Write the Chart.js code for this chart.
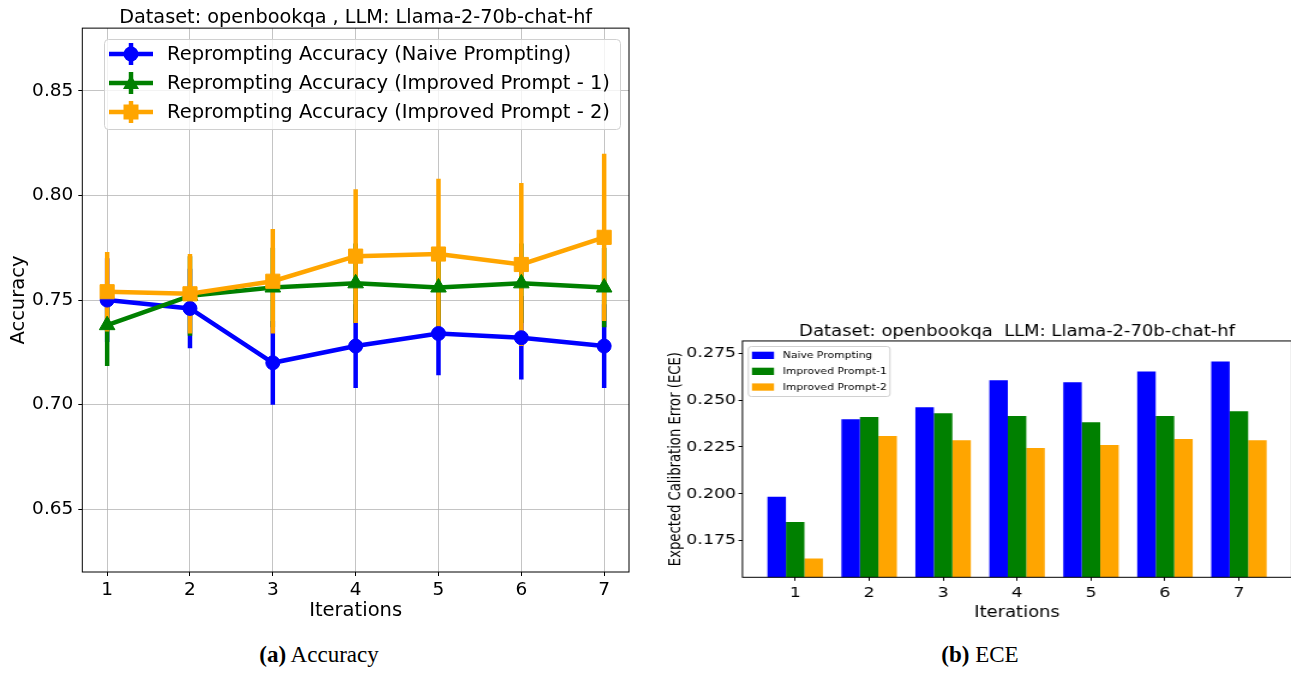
<!DOCTYPE html>
<html>
<head>
<meta charset="utf-8">
<script src="https://cdn.jsdelivr.net/npm/chart.js@4.4.1/dist/chart.umd.min.js"></script>
<style>
  html, body { margin: 0; padding: 0; background: #fff; overflow: hidden; width: 1291px; height: 673px; }
  #left { position: absolute; left: 0; top: 0; }
  #rightWrap { position: absolute; left: 655px; top: 318px; transform: scaleX(1.2); transform-origin: 0 0; }
  .cap { position: absolute; top: 642px; font-family: 'Liberation Serif', 'Times New Roman', serif; font-size: 23px; color: #000; white-space: nowrap; transform: translateX(-50%); }
</style>
</head>
<body>
<canvas id="left" width="640" height="630"></canvas>
<div id="rightWrap"><canvas id="right" width="532" height="312"></canvas></div>
<div class="cap" style="left:319px"><b>(a)</b> Accuracy</div>
<div class="cap" style="left:980px"><b>(b)</b> ECE</div>
<script>
// ---------------- data ----------------
const iterations = [1, 2, 3, 4, 5, 6, 7];

const naiveAcc = [0.750, 0.746, 0.720, 0.728, 0.734, 0.732, 0.728];
const naiveErr = [0.020, 0.019, 0.020, 0.020, 0.020, 0.020, 0.020];
const imp1Acc  = [0.738, 0.752, 0.756, 0.758, 0.756, 0.758, 0.756];
const imp1Err  = [0.0195, 0.019, 0.019, 0.019, 0.019, 0.019, 0.019];
const imp2Acc  = [0.754, 0.753, 0.759, 0.771, 0.772, 0.767, 0.780];
const imp2Err  = [0.019, 0.019, 0.025, 0.032, 0.036, 0.039, 0.040];
const accTicks = [0.65, 0.70, 0.75, 0.80, 0.85];

const eceNaive = [0.1985, 0.2398, 0.2462, 0.2605, 0.2595, 0.2652, 0.2705];
const eceImp1  = [0.1850, 0.2410, 0.2430, 0.2415, 0.2382, 0.2415, 0.2440];
const eceImp2  = [0.1655, 0.2308, 0.2286, 0.2244, 0.2260, 0.2292, 0.2286];
const eceTicks = [0.175, 0.200, 0.225, 0.250, 0.275];

const accLabels = ['Reprompting Accuracy (Naive Prompting)',
                   'Reprompting Accuracy (Improved Prompt - 1)',
                   'Reprompting Accuracy (Improved Prompt - 2)'];
const eceLabels = ['Naive Prompting', 'Improved Prompt-1', 'Improved Prompt-2'];

const BLUE = '#0000ff', GREEN = '#008000', ORANGE = '#ffa500';

Chart.defaults.font.family = "'DejaVu Sans', sans-serif";
Chart.defaults.color = '#000';
Chart.defaults.animation = false;
Chart.defaults.plugins.legend.display = false;
Chart.defaults.plugins.tooltip.enabled = false;

const pts = (vals) => vals.map((v, i) => ({ x: iterations[i], y: v }));

// ---------------- plugins ----------------
const errorBars = {
  id: 'errorBars',
  beforeDatasetsDraw(chart) {
    const { ctx, scales: { x, y }, chartArea: a } = chart;
    ctx.save();
    ctx.beginPath(); ctx.rect(a.left, a.top, a.width, a.height); ctx.clip();
    chart.data.datasets.forEach(ds => {
      if (!ds.errors) return;
      ctx.strokeStyle = ds.borderColor;
      ctx.lineWidth = 4.5;
      ctx.lineCap = 'butt';
      ds.data.forEach((p, i) => {
        const px = x.getPixelForValue(p.x);
        ctx.beginPath();
        ctx.moveTo(px, y.getPixelForValue(p.y - ds.errors[i]));
        ctx.lineTo(px, y.getPixelForValue(p.y + ds.errors[i]));
        ctx.stroke();
      });
    });
    ctx.restore();
  }
};

const frame = {
  id: 'frame',
  afterDatasetsDraw(chart) {
    const { ctx, chartArea: a } = chart;
    ctx.save();
    ctx.strokeStyle = '#000';
    ctx.lineWidth = 1;
    ctx.strokeRect(a.left, a.top, a.right - a.left, a.bottom - a.top);
    ctx.restore();
  }
};

function roundRect(ctx, x, y, w, h, r) {
  ctx.beginPath();
  ctx.moveTo(x + r, y);
  ctx.lineTo(x + w - r, y); ctx.arcTo(x + w, y, x + w, y + r, r);
  ctx.lineTo(x + w, y + h - r); ctx.arcTo(x + w, y + h, x + w - r, y + h, r);
  ctx.lineTo(x + r, y + h); ctx.arcTo(x, y + h, x, y + h - r, r);
  ctx.lineTo(x, y + r); ctx.arcTo(x, y, x + r, y, r);
  ctx.closePath();
}

function marker(ctx, style, x, y, color) {
  ctx.fillStyle = color;
  ctx.beginPath();
  if (style === 'circle') {
    ctx.arc(x, y, 7.5, 0, Math.PI * 2);
  } else if (style === 'triangle') {
    ctx.moveTo(x, y - 8); ctx.lineTo(x + 8, y + 6); ctx.lineTo(x - 8, y + 6); ctx.closePath();
  } else {
    ctx.rect(x - 7.5, y - 7.5, 15, 15);
  }
  ctx.fill();
}

const lineLegend = {
  id: 'lineLegend',
  afterDraw(chart) {
    const ctx = chart.ctx;
    ctx.save();
    roundRect(ctx, 104.5, 39.5, 516, 90, 4);
    ctx.fillStyle = 'rgba(255,255,255,0.8)';
    ctx.fill();
    ctx.strokeStyle = '#d0d0d0';
    ctx.lineWidth = 1;
    ctx.stroke();
    const rows = [54, 83, 112];
    chart.data.datasets.forEach((ds, i) => {
      const yy = rows[i];
      ctx.strokeStyle = ds.borderColor;
      ctx.lineWidth = 4.5;
      ctx.beginPath(); ctx.moveTo(109, yy); ctx.lineTo(153, yy); ctx.stroke();
      ctx.beginPath(); ctx.moveTo(131, yy - 11); ctx.lineTo(131, yy + 11); ctx.stroke();
      marker(ctx, ds.pointStyle, 131, yy, ds.borderColor);
      ctx.fillStyle = '#000';
      ctx.font = "19.5px 'DejaVu Sans', sans-serif";
      ctx.textBaseline = 'middle';
      ctx.textAlign = 'left';
      ctx.fillText(ds.label, 167, yy + 1);
    });
    ctx.restore();
  }
};

const barLegend = {
  id: 'barLegend',
  afterDraw(chart) {
    const ctx = chart.ctx;
    ctx.save();
    roundRect(ctx, 77.8, 28.5, 118, 50, 2.5);
    ctx.fillStyle = 'rgba(255,255,255,0.8)';
    ctx.fill();
    ctx.strokeStyle = '#d0d0d0';
    ctx.lineWidth = 1;
    ctx.stroke();
    const rows = [37.3, 53.3, 69];
    chart.data.datasets.forEach((ds, i) => {
      const yy = rows[i];
      ctx.fillStyle = ds.backgroundColor;
      ctx.fillRect(80.8, yy - 3.6, 18.4, 7.3);
      ctx.fillStyle = '#000';
      ctx.font = "9px 'DejaVu Sans', sans-serif";
      ctx.textBaseline = 'middle';
      ctx.textAlign = 'left';
      ctx.fillText(ds.label, 106.4, yy + 0.5);
    });
    ctx.restore();
  }
};

// ---------------- left chart: accuracy ----------------
const gridCol = 'rgba(176,176,176,0.75)';
new Chart(document.getElementById('left'), {
  type: 'line',
  data: {
    datasets: [
      { label: accLabels[0], data: pts(naiveAcc), errors: naiveErr, borderColor: BLUE, backgroundColor: BLUE,
        pointStyle: 'circle', pointRadius: 7, order: 3 },
      { label: accLabels[1], data: pts(imp1Acc), errors: imp1Err, borderColor: GREEN, backgroundColor: GREEN,
        pointStyle: 'triangle', pointRadius: 9, order: 2 },
      { label: accLabels[2], data: pts(imp2Acc), errors: imp2Err, borderColor: ORANGE, backgroundColor: ORANGE,
        pointStyle: 'rect', pointRadius: 10, order: 1 }
    ].map(d => Object.assign(d, { borderWidth: 4.5, fill: false, tension: 0,
        pointBackgroundColor: d.borderColor, pointBorderColor: d.borderColor, pointBorderWidth: 1 }))
  },
  options: {
    responsive: false,
    layout: { padding: { left: 0, right: 10, top: 0, bottom: 0 } },
    plugins: {
      title: { display: true, fullSize: false, text: 'Dataset: openbookqa , LLM: Llama-2-70b-chat-hf',
               font: { size: 19.3, weight: 'normal', lineHeight: 1.1 }, padding: { top: 6.9, bottom: 0 }, color: '#000' }
    },
    scales: {
      x: {
        type: 'linear', min: 0.7, max: 7.3,
        afterBuildTicks: s => { s.ticks = iterations.map(v => ({ value: v })); },
        afterFit: s => { s.height = 58; },
        ticks: { font: { size: 18.5 }, padding: 3.5, callback: v => String(v), maxRotation: 0 },
        grid: { color: gridCol, lineWidth: 1, tickColor: '#000', tickLength: 4 },
        border: { display: false },
        title: { display: true, text: 'Iterations', font: { size: 19.5 }, padding: { top: 0, bottom: 7.3 } }
      },
      y: {
        type: 'linear', min: 0.62, max: 0.88,
        afterBuildTicks: s => { s.ticks = accTicks.map(v => ({ value: v })); },
        afterFit: s => { s.width = 82.3; },
        ticks: { font: { size: 18.5 }, padding: 5, callback: v => Number(v).toFixed(2) },
        grid: { color: gridCol, lineWidth: 1, tickColor: '#000', tickLength: 4 },
        border: { display: false },
        title: { display: true, text: 'Accuracy', font: { size: 19.5 }, padding: { top: 7.3, bottom: 0 } }
      }
    }
  },
  plugins: [errorBars, frame, lineLegend]
});

// ---------------- right chart: ECE ----------------
new Chart(document.getElementById('right'), {
  type: 'bar',
  data: {
    datasets: [
      { label: eceLabels[0], data: pts(eceNaive), backgroundColor: BLUE },
      { label: eceLabels[1], data: pts(eceImp1), backgroundColor: GREEN },
      { label: eceLabels[2], data: pts(eceImp2), backgroundColor: ORANGE }
    ].map(d => Object.assign(d, { categoryPercentage: 0.75, barPercentage: 1.0, borderWidth: 0 }))
  },
  options: {
    responsive: false,
    layout: { padding: { left: 0, right: 1.5, top: 0, bottom: 0 } },
    plugins: {
      title: { display: true, fullSize: false, text: 'Dataset: openbookqa  LLM: Llama-2-70b-chat-hf',
               font: { size: 15, weight: 'normal', lineHeight: 1.15 }, padding: { top: 5.2, bottom: 0.5 }, color: '#000' }
    },
    scales: {
      x: {
        type: 'linear', min: 0.2875, max: 7.7125, offset: false,
        afterBuildTicks: s => { s.ticks = iterations.map(v => ({ value: v })); },
        afterFit: s => { s.height = 52.7; },
        ticks: { font: { size: 14.5 }, padding: 4, callback: v => String(v), maxRotation: 0 },
        grid: { display: true, drawOnChartArea: false, offset: false, tickColor: '#000', tickLength: 3.5 },
        border: { display: false },
        title: { display: true, text: 'Iterations', font: { size: 15 }, padding: { top: 0, bottom: 7.5 } }
      },
      y: {
        type: 'linear', min: 0.1555, max: 0.2815, beginAtZero: false,
        afterBuildTicks: s => { s.ticks = eceTicks.map(v => ({ value: v })); },
        afterFit: s => { s.width = 72.9; },
        ticks: { font: { size: 14.5 }, padding: 2, callback: v => Number(v).toFixed(3) },
        grid: { display: true, drawOnChartArea: false, tickColor: '#000', tickLength: 3.3 },
        border: { display: false },
        title: { display: true, text: 'Expected Calibration Error (ECE)', font: { size: 13.2 }, padding: { top: 9.6, bottom: 0 } }
      }
    }
  },
  plugins: [frame, barLegend]
});
</script>
</body>
</html>
